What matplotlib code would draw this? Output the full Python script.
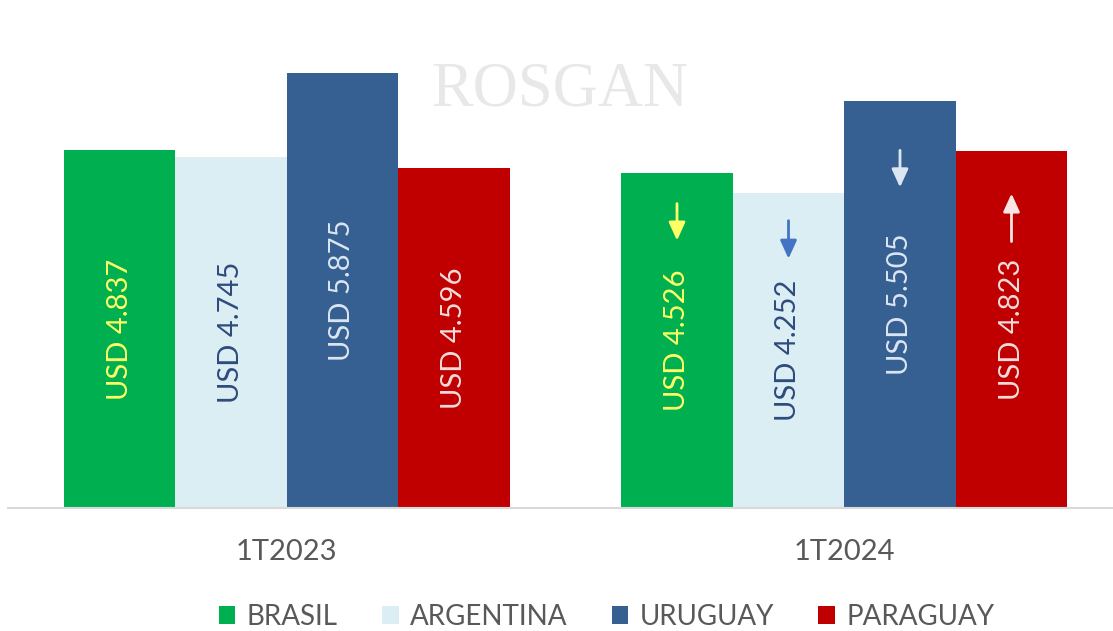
import matplotlib
matplotlib.use("Agg")
import matplotlib.pyplot as plt
import numpy as np

periods = ["1T2023", "1T2024"]
countries = ["BRASIL", "ARGENTINA", "URUGUAY", "PARAGUAY"]
brasil = [4837, 4526]
argentina = [4745, 4252]
uruguay = [5875, 5505]
paraguay = [4596, 4823]
series = [brasil, argentina, uruguay, paraguay]
labels_2023 = ["USD 4.837", "USD 4.745", "USD 5.875", "USD 4.596"]
labels_2024 = ["USD 4.526", "USD 4.252", "USD 5.505", "USD 4.823"]
trend_2024 = ["down", "down", "down", "up"]

bar_colors = ["#00B050", "#DAEEF3", "#366092", "#C00000"]
text_colors = ["#FFFF66", "#2F4B7C", "#DCE6F2", "#F2DCDB"]
arrow_colors = ["#FFFF66", "#4472C4", "#DCE6F2", "#F8E6E6"]
# style: distance (px) of arrow's lower end above bar centre, and arrow length (px)
arrow_gap_px = [100, 92, 117, 88]
arrow_len_px = [37, 38, 37, 48]

plt.rcParams['font.family'] = ['Lato', 'DejaVu Sans']

fig = plt.figure(figsize=(11.13, 6.31), dpi=100)
ax = fig.add_axes([8/1113, (631-508)/631, 1 - 8/1113, 508/631])

px_per_unit = 0.0740
x = np.arange(len(periods))
w = 0.2
for i, (vals, col) in enumerate(zip(series, bar_colors)):
    ax.bar(x - 0.3 + i*w, vals, width=w, color=col, label=countries[i], zorder=2)

for j, labs in enumerate([labels_2023, labels_2024]):
    for i, lab in enumerate(labs):
        v = series[i][j]
        xc = x[j] - 0.3 + i*w
        ax.text(xc, v/2, lab, rotation=90, ha='center', va='center',
                color=text_colors[i], fontsize=21, zorder=3)

# trend arrows for 2024
for i, t in enumerate(trend_2024):
    v = series[i][1]
    xc = x[1] - 0.3 + i*w
    lo = v/2 + arrow_gap_px[i]/px_per_unit
    hi = lo + arrow_len_px[i]/px_per_unit
    if t == "down":
        start, end = (xc, hi), (xc, lo)
    else:
        start, end = (xc, lo), (xc, hi)
    ax.annotate("", xy=end, xytext=start,
                arrowprops=dict(arrowstyle='-|>,head_width=0.5,head_length=1.1',
                                color=arrow_colors[i], lw=2, shrinkA=0, shrinkB=0),
                zorder=4)

ax.set_ylim(0, 508/px_per_unit)
ax.set_xlim(-0.5, (1113-8)/557.5 - 0.5)
for s in ["top", "right", "left"]:
    ax.spines[s].set_visible(False)
ax.spines["bottom"].set_color("#D9D9D9")
ax.spines["bottom"].set_linewidth(1.5)
ax.set_yticks([])
ax.set_xticks(x)
ax.set_xticklabels(periods, fontsize=21, color="#595959")
ax.tick_params(axis='x', length=0, pad=22)

# watermark
fig.text(560/1113, 1 - 90/631, "ROSGAN", fontsize=45, color="#E8E8E8",
         family="Liberation Serif", ha='center', va='center', zorder=0)

leg = fig.legend(loc='center', bbox_to_anchor=(0.545, 1 - 617/631), ncol=4,
                 frameon=False, fontsize=20, handlelength=0.6, handleheight=0.6,
                 columnspacing=1.6, handletextpad=0.4)
for t in leg.get_texts():
    t.set_color("#595959")

fig.savefig("out.png", dpi=100)
